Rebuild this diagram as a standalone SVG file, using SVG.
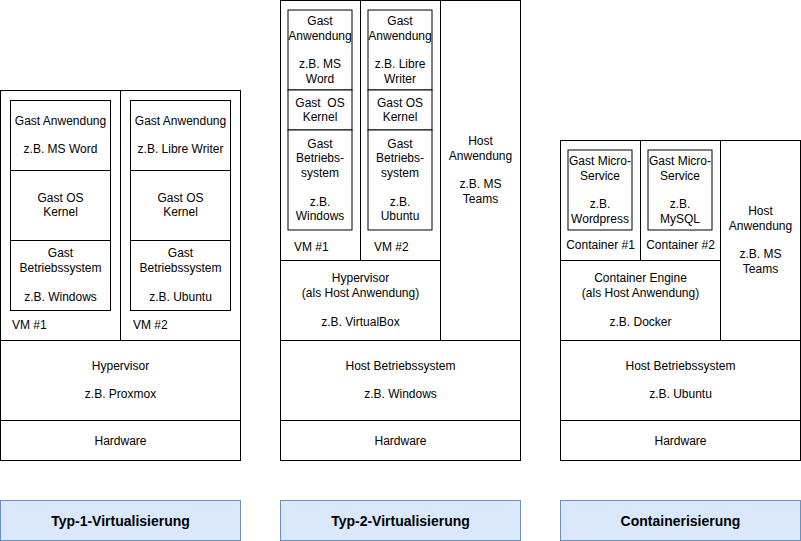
<svg xmlns="http://www.w3.org/2000/svg" width="801" height="541" viewBox="0 0 801 541">
<style>
  .box { fill: #ffffff; stroke: #000000; stroke-width: 1; }
  .inner { fill: #ffffff; stroke: #000000; stroke-width: 1; }
  .lbl { fill: #dae8fc; stroke: #6c8ebf; stroke-width: 1; }
  text { font-family: "Liberation Sans", Arial, Helvetica, sans-serif; font-size: 12px; fill: #000000; }
  .c { text-anchor: middle; }
  .s { text-anchor: start; }
  .b { font-size: 14px; font-weight: bold; text-anchor: middle; }
  .pre { white-space: pre; }
</style>
<rect x="0" y="0" width="801" height="541" fill="#ffffff"/>
<g id="connectors"/>

<!-- Column 1: Typ-1 -->
<g id="t1-vm1">
  <rect class="box" x="0.5" y="90.5" width="120" height="250"/>
  <text class="s" x="12" y="329">VM #1</text>
</g>
<g id="t1-vm2">
  <rect class="box" x="120.5" y="90.5" width="120" height="250"/>
  <text class="s" x="133" y="329">VM #2</text>
</g>
<g id="t1-vm1-app">
  <rect class="box" x="10.5" y="100.5" width="100" height="70"/>
  <text class="c" x="60.5" y="124.6">Gast Anwendung</text>
  <text class="c" x="60.5" y="153.4">z.B. MS Word</text>
</g>
<g id="t1-vm1-kernel">
  <rect class="box" x="10.5" y="170.5" width="100" height="70"/>
  <text class="c" x="60.5" y="201.8">Gast OS</text>
  <text class="c" x="60.5" y="216.2">Kernel</text>
</g>
<g id="t1-vm1-os">
  <rect class="box" x="10.5" y="240.5" width="100" height="70"/>
  <text class="c" x="60.5" y="257.4">Gast</text>
  <text class="c" x="60.5" y="271.8">Betriebssystem</text>
  <text class="c" x="60.5" y="300.6">z.B. Windows</text>
</g>
<g id="t1-vm2-app">
  <rect class="box" x="130.5" y="100.5" width="100" height="70"/>
  <text class="c" x="180.5" y="124.6">Gast Anwendung</text>
  <text class="c" x="180.5" y="153.4">z.B. Libre Writer</text>
</g>
<g id="t1-vm2-kernel">
  <rect class="box" x="130.5" y="170.5" width="100" height="70"/>
  <text class="c" x="180.5" y="201.8">Gast OS</text>
  <text class="c" x="180.5" y="216.2">Kernel</text>
</g>
<g id="t1-vm2-os">
  <rect class="box" x="130.5" y="240.5" width="100" height="70"/>
  <text class="c" x="180.5" y="257.4">Gast</text>
  <text class="c" x="180.5" y="271.8">Betriebssystem</text>
  <text class="c" x="180.5" y="300.6">z.B. Ubuntu</text>
</g>
<g id="t1-hypervisor">
  <rect class="box" x="0.5" y="340.5" width="240" height="80"/>
  <text class="c" x="120.5" y="369.6">Hypervisor</text>
  <text class="c" x="120.5" y="398.4">z.B. Proxmox</text>
</g>
<g id="t1-hardware">
  <rect class="box" x="0.5" y="420.5" width="240" height="40"/>
  <text class="c" x="120.5" y="444.5">Hardware</text>
</g>
<g id="t1-label">
  <rect class="lbl" x="0.5" y="500.5" width="240" height="40"/>
  <text class="b" x="120.5" y="525.5">Typ-1-Virtualisierung</text>
</g>

<!-- Column 2: Typ-2 -->
<g id="t2-vm1">
  <rect class="box" x="280.5" y="0.5" width="80" height="260"/>
  <text class="s" x="294" y="251">VM #1</text>
</g>
<g id="t2-vm2">
  <rect class="box" x="360.5" y="0.5" width="80" height="260"/>
  <text class="s" x="374" y="251">VM #2</text>
</g>
<g id="t2-hostapp">
  <rect class="box" x="440.5" y="0.5" width="80" height="340"/>
  <text class="c" x="480.5" y="145.2">Host</text>
  <text class="c" x="480.5" y="159.6">Anwendung</text>
  <text class="c" x="480.5" y="188.4">z.B. MS</text>
  <text class="c" x="480.5" y="202.8">Teams</text>
</g>
<g id="t2-vm1-app">
  <rect class="inner" x="288" y="10" width="64" height="80"/>
  <text class="c" x="320" y="25.2">Gast</text>
  <text class="c" x="320" y="39.6">Anwendung</text>
  <text class="c" x="320" y="68.4">z.B. MS</text>
  <text class="c" x="320" y="82.8">Word</text>
</g>
<g id="t2-vm1-kernel">
  <rect class="inner" x="288" y="90" width="64" height="40"/>
  <text class="c pre" x="320" y="106.8">Gast  OS</text>
  <text class="c" x="320" y="121.2">Kernel</text>
</g>
<g id="t2-vm1-os">
  <rect class="inner" x="288" y="130" width="64" height="100"/>
  <text class="c" x="320" y="148">Gast</text>
  <text class="c" x="320" y="162.4">Betriebs-</text>
  <text class="c" x="320" y="176.8">system</text>
  <text class="c" x="320" y="205.6">z.B.</text>
  <text class="c" x="320" y="220">Windows</text>
</g>
<g id="t2-vm2-app">
  <rect class="inner" x="368" y="10" width="64" height="80"/>
  <text class="c" x="400" y="25.2">Gast</text>
  <text class="c" x="400" y="39.6">Anwendung</text>
  <text class="c" x="400" y="68.4">z.B. Libre</text>
  <text class="c" x="400" y="82.8">Writer</text>
</g>
<g id="t2-vm2-kernel">
  <rect class="inner" x="368" y="90" width="64" height="40"/>
  <text class="c" x="400" y="106.8">Gast OS</text>
  <text class="c" x="400" y="121.2">Kernel</text>
</g>
<g id="t2-vm2-os">
  <rect class="inner" x="368" y="130" width="64" height="100"/>
  <text class="c" x="400" y="148">Gast</text>
  <text class="c" x="400" y="162.4">Betriebs-</text>
  <text class="c" x="400" y="176.8">system</text>
  <text class="c" x="400" y="205.6">z.B.</text>
  <text class="c" x="400" y="220">Ubuntu</text>
</g>
<g id="t2-hypervisor">
  <rect class="box" x="280.5" y="260.5" width="160" height="80"/>
  <text class="c" x="360.5" y="282.4">Hypervisor</text>
  <text class="c" x="360.5" y="296.8">(als Host Anwendung)</text>
  <text class="c" x="360.5" y="325.6">z.B. VirtualBox</text>
</g>
<g id="t2-hostos">
  <rect class="box" x="280.5" y="340.5" width="240" height="80"/>
  <text class="c" x="400.5" y="369.6">Host Betriebssystem</text>
  <text class="c" x="400.5" y="398.4">z.B. Windows</text>
</g>
<g id="t2-hardware">
  <rect class="box" x="280.5" y="420.5" width="240" height="40"/>
  <text class="c" x="400.5" y="444.5">Hardware</text>
</g>
<g id="t2-label">
  <rect class="lbl" x="280.5" y="500.5" width="240" height="40"/>
  <text class="b" x="400.5" y="525.5">Typ-2-Virtualisierung</text>
</g>

<!-- Column 3: Container -->
<g id="c-container1">
  <rect class="box" x="560.5" y="140.5" width="80" height="120"/>
  <text class="c" x="600.5" y="249">Container #1</text>
</g>
<g id="c-container2">
  <rect class="box" x="640.5" y="140.5" width="80" height="120"/>
  <text class="c" x="680.5" y="249">Container #2</text>
</g>
<g id="c-hostapp">
  <rect class="box" x="720.5" y="140.5" width="80" height="200"/>
  <text class="c" x="760.5" y="215.2">Host</text>
  <text class="c" x="760.5" y="229.6">Anwendung</text>
  <text class="c" x="760.5" y="258.4">z.B. MS</text>
  <text class="c" x="760.5" y="272.8">Teams</text>
</g>
<g id="c-ms1">
  <rect class="inner" x="568" y="150" width="64" height="80"/>
  <text class="c" x="600" y="165.2">Gast Micro-</text>
  <text class="c" x="600" y="179.6">Service</text>
  <text class="c" x="600" y="208.4">z.B.</text>
  <text class="c" x="600" y="222.8">Wordpress</text>
</g>
<g id="c-ms2">
  <rect class="inner" x="648" y="150" width="64" height="80"/>
  <text class="c" x="680" y="165.2">Gast Micro-</text>
  <text class="c" x="680" y="179.6">Service</text>
  <text class="c" x="680" y="208.4">z.B.</text>
  <text class="c" x="680" y="222.8">MySQL</text>
</g>
<g id="c-engine">
  <rect class="box" x="560.5" y="260.5" width="160" height="80"/>
  <text class="c" x="640.5" y="282.4">Container Engine</text>
  <text class="c" x="640.5" y="296.8">(als Host Anwendung)</text>
  <text class="c" x="640.5" y="325.6">z.B. Docker</text>
</g>
<g id="c-hostos">
  <rect class="box" x="560.5" y="340.5" width="240" height="80"/>
  <text class="c" x="680.5" y="369.6">Host Betriebssystem</text>
  <text class="c" x="680.5" y="398.4">z.B. Ubuntu</text>
</g>
<g id="c-hardware">
  <rect class="box" x="560.5" y="420.5" width="240" height="40"/>
  <text class="c" x="680.5" y="444.5">Hardware</text>
</g>
<g id="c-label">
  <rect class="lbl" x="560.5" y="500.5" width="240" height="40"/>
  <text class="b" x="680.5" y="525.5">Containerisierung</text>
</g>
</svg>
